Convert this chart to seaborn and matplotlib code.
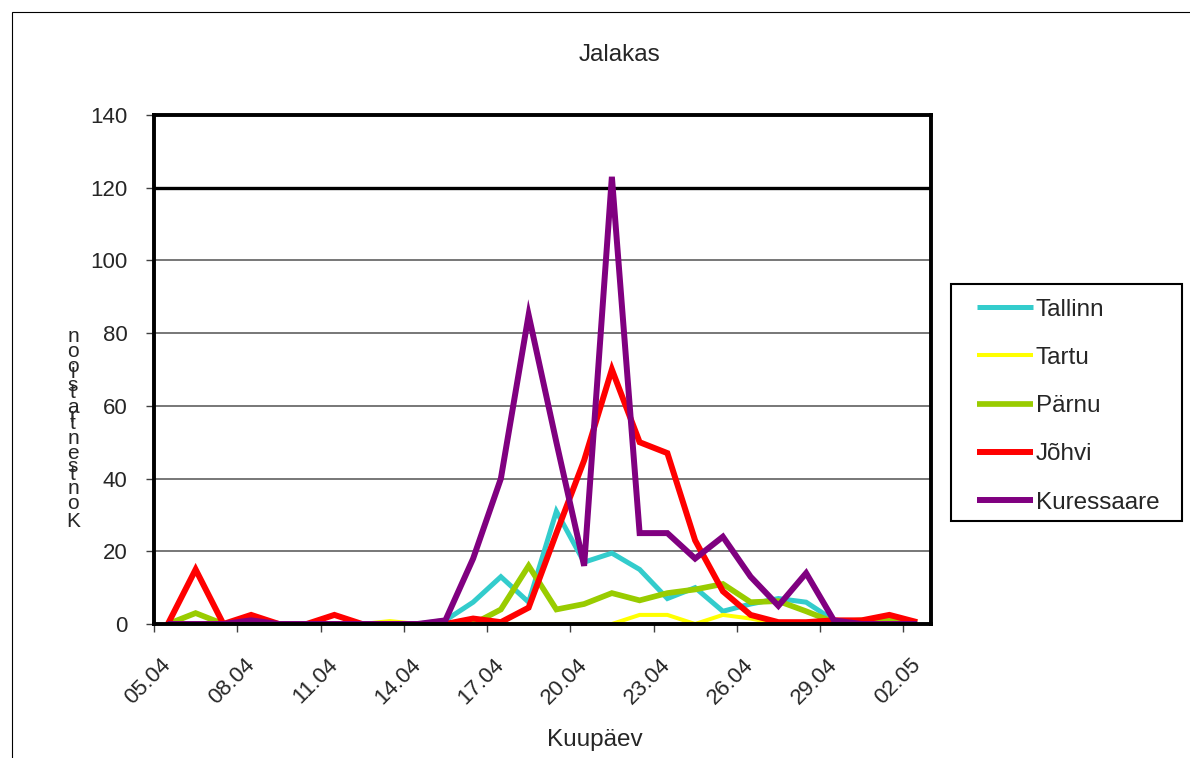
import matplotlib
matplotlib.use("Agg")
import matplotlib.pyplot as plt
from matplotlib.patches import Rectangle
import numpy as np
import pandas as pd
import seaborn as sns

# ---- data -------------------------------------------------------------
dates = ["05.04", "06.04", "07.04", "08.04", "09.04", "10.04", "11.04",
         "12.04", "13.04", "14.04", "15.04", "16.04", "17.04", "18.04",
         "19.04", "20.04", "21.04", "22.04", "23.04", "24.04", "25.04",
         "26.04", "27.04", "28.04", "29.04", "30.04", "01.05", "02.05"]

tallinn = [0, 0, 0, 0, 0, 0, 0, 0, 0, 0, 1, 6, 13, 6, 31, 17, 19.5, 15, 7,
           10, 3.5, 5.5, 7, 6, 1, 0, 0, 0]
tartu = [0, 0, 0, 0, 0, 0, 0, 0, 0.8, 0, 0, 0, 0, 0, 0, 0, 0, 2.5, 2.5, 0,
         2.5, 1.5, 0, 0, 0, 0, 0, 0]
parnu = [0, 3, 0, 0, 0, 0, 0, 0, 0, 0, 0, 0, 4, 16, 4, 5.5, 8.5, 6.5, 8.5,
         9.5, 11, 6, 6.3, 3.5, 0.5, 1, 1, 0.5]
johvi = [0, 15, 0, 2.5, 0, 0, 2.5, 0, 0, 0, 0, 1.5, 0.5, 4.5, 25, 45, 70,
         50, 47, 23, 9, 2.5, 0.5, 0.5, 1, 1, 2.5, 0.5]
kuressaare = [0, 0, 0, 1, 0, 0, 0, 0, 0, 0, 1, 18, 40, 85, 50, 16, 123, 25,
              25, 18, 24, 13, 5, 14, 1, 0, 0, 0]

series_names = ["Tallinn", "Tartu", "Pärnu", "Jõhvi", "Kuressaare"]
series_values = [tallinn, tartu, parnu, johvi, kuressaare]

title = "Jalakas"
x_label = "Kuupäev"
y_label = "Kontsentratsioon"

# ---- styling ----------------------------------------------------------
colors = ["#33CCCC", "#FFFF00", "#99CC00", "#FF0000", "#800080"]
widths = [3.6, 2.9, 4.1, 4.3, 4.3]

sns.set_style("white")
plt.rcParams["font.family"] = ["Liberation Sans", "DejaVu Sans"]
FS_TEXT = 17.5   # title, axis caption, legend
FS_TICK = 16     # tick labels
FS_STACK = 15    # stacked y caption glyphs
fs_px = FS_TEXT * 100 / 72

W, H = 1190, 758
fig = plt.figure(figsize=(W / 100, H / 100), dpi=100)
ax = fig.add_axes([154 / W, 1 - 624 / H, 777 / W, 509 / H])

idx = np.arange(len(dates))
df = pd.DataFrame({
    "i": np.tile(idx, len(series_names)),
    "linn": np.repeat(series_names, len(dates)),
    "v": np.concatenate(series_values),
})

for name, color, lw in zip(series_names, colors, widths):
    sns.lineplot(data=df[df["linn"] == name], x="i", y="v", color=color,
                 linewidth=lw, label=name, ax=ax, errorbar=None,
                 solid_joinstyle="miter", solid_capstyle="butt")

handles, labels = ax.get_legend_handles_labels()
ax.get_legend().remove()

# axes limits and ticks
ax.set_xlim(-0.5, len(dates) - 0.5)
ax.set_ylim(0, 140)
ax.set_xlabel("")
ax.set_ylabel("")

label_pos = np.arange(0, len(dates), 3)
ax.set_xticks(label_pos)
ax.set_xticklabels([dates[i] for i in label_pos], rotation=45, ha="right",
                   va="center", rotation_mode="anchor", fontsize=FS_TICK)
ax.set_xticks(np.arange(-0.5, len(dates), 3), minor=True)
ax.tick_params(axis="x", which="major", length=0, pad=27)
ax.tick_params(axis="x", which="minor", length=6, width=1,
               color="#404040", direction="out", bottom=True)

ax.set_yticks(np.arange(0, 141, 20))
ax.tick_params(axis="y", which="major", length=6, width=1, color="#404040",
               direction="out", pad=13, labelsize=FS_TICK, left=True)

# horizontal gridlines, with the 120 line emphasised
ax.set_axisbelow(True)
ax.yaxis.grid(True, color="#606060", linewidth=1.2)
for val, gl in zip(ax.get_yticks(), ax.get_ygridlines()):
    if val == 120:
        gl.set_color("black")
        gl.set_linewidth(2.4)

for sp in ax.spines.values():
    sp.set_visible(True)
    sp.set_color("black")
    sp.set_linewidth(2.8)

# titles
fig.text(620 / W, 1 - 55 / H, title, ha="center", va="center",
         fontsize=FS_TEXT)
fig.text(595 / W, 1 - 740 / H, x_label, ha="center", va="center",
         fontsize=FS_TEXT)

# y-axis caption: glyphs stacked upward by their advance widths
advance = {"K": 0.667, "o": 0.556, "n": 0.556, "t": 0.278, "s": 0.5,
           "e": 0.556, "r": 0.333, "a": 0.556, "i": 0.222}
base_y, step = 527, 26.6
cum = 0.0
for ch in y_label:
    fig.text(73 / W, 1 - (base_y - cum * step) / H, ch, ha="center",
             va="baseline", fontsize=FS_STACK)
    cum += advance.get(ch, 0.556)

# legend
bpad = 0.6
fig.legend(handles, labels, loc="upper left",
           bbox_to_anchor=((977 - bpad * fs_px) / W, 1 - 284 / H),
           bbox_transform=fig.transFigure, frameon=False, fontsize=FS_TEXT,
           borderpad=bpad, borderaxespad=0, handlelength=56 / fs_px,
           handletextpad=3 / fs_px, labelspacing=1.08)
fig.patches.append(Rectangle((951 / W, 1 - 521 / H), 231 / W, 237 / H,
                             transform=fig.transFigure, fill=False,
                             edgecolor="black", linewidth=1.5))

# outer chart border
fig.patches.append(Rectangle((12 / W, -0.05), 1.2, 1.05 - 12 / H,
                             transform=fig.transFigure, fill=False,
                             edgecolor="black", linewidth=0.8))

fig.savefig("out.png", dpi=100)
